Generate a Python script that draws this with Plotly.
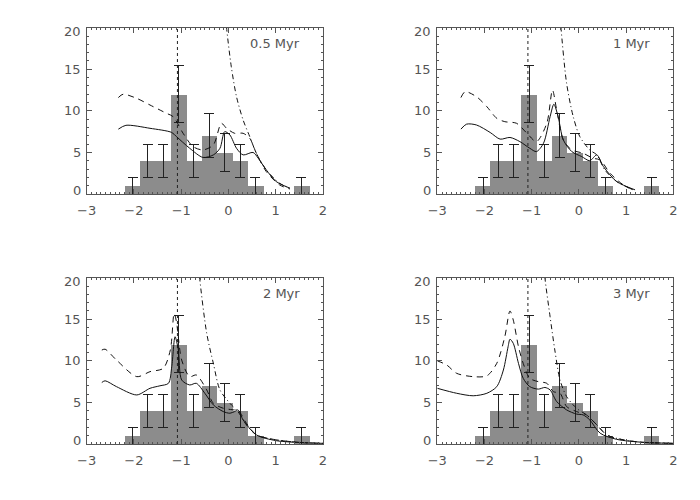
import plotly.graph_objects as go

# histogram (same in every panel)
bin_centers = [-2.03, -1.705, -1.38, -1.055, -0.73, -0.405, -0.08, 0.245, 0.57, 0.895, 1.22, 1.545]
counts = [1, 4, 4, 12, 4, 7, 5, 4, 1, 0, 0, 1]
count_err = [1.0, 2.0, 2.0, 3.46, 2.0, 2.65, 2.24, 2.0, 1.0, 0.0, 0.0, 1.0]
bin_width = 0.33
ref_line_x = -1.08

ages = ["0.5 Myr", "1 Myr", "2 Myr", "3 Myr"]
y_ticks = [0, 5, 10, 15, 20]

# model curves, one set per age
solid_x = [
    [-2.33, -2.17, -1.66, -1.2, -1.1, -0.82, -0.54, -0.32, -0.18, -0.08, 0.03, 0.17, 0.31, 0.52, 0.63, 0.8, 1.01, 1.3],
    [-2.5, -2.38, -2.17, -1.88, -1.67, -1.46, -1.25, -1.04, -0.9, -0.75, -0.61, -0.53, -0.44, -0.33, -0.15, 0.06, 0.23, 0.38, 0.52, 0.8, 1.19],
    [-2.68, -2.61, -2.37, -1.94, -1.66, -1.45, -1.27, -1.2, -1.13, -1.06, -0.99, -0.82, -0.68, -0.5, -0.32, -0.11, 0.03, 0.13, 0.2, 0.31, 0.59, 1.01, 1.58, 2.0],
    [-3.0, -2.59, -2.24, -1.95, -1.74, -1.6, -1.5, -1.46, -1.39, -1.28, -1.18, -1.04, -0.86, -0.72, -0.61, -0.47, -0.26, -0.05, 0.09, 0.23, 0.45, 0.8, 1.36, 2.0],
]
solid_y = [
    [7.8, 8.26, 7.9, 7.4, 6.9, 5.5, 4.4, 4.7, 5.5, 7.5, 7.1, 5.5, 4.7, 5.0, 4.3, 2.9, 1.5, 0.7],
    [7.8, 8.4, 8.3, 7.4, 6.6, 6.8, 6.3, 5.5, 5.1, 6.1, 9.3, 10.8, 9.3, 6.5, 5.1, 4.5, 4.0, 4.7, 3.3, 1.5, 0.5],
    [7.4, 7.6, 6.9, 5.9, 6.7, 7.0, 7.3, 9.3, 12.9, 11.3, 7.7, 7.1, 7.3, 6.1, 4.7, 3.9, 3.7, 3.9, 4.1, 2.9, 1.1, 0.4, 0.16, 0.08],
    [6.7, 6.1, 5.8, 6.1, 6.9, 8.9, 11.7, 12.6, 12.1, 9.7, 7.9, 6.9, 6.6, 6.8, 6.5, 5.1, 4.1, 3.6, 3.5, 2.9, 1.3, 0.56, 0.2, 0.08],
]
dash_x = [
    [-2.33, -2.23, -1.94, -1.66, -1.31, -1.17, -0.96, -0.75, -0.54, -0.32, -0.15, -0.04, 0.13, 0.31, 0.45, 0.59, 0.8, 1.08, 1.3],
    [-2.5, -2.41, -2.17, -1.95, -1.74, -1.57, -1.32, -1.1, -0.9, -0.68, -0.56, -0.47, -0.33, -0.15, 0.09, 0.3, 0.45, 0.66, 0.94, 1.19],
    [-2.68, -2.61, -2.37, -1.94, -1.66, -1.38, -1.23, -1.15, -1.1, -0.99, -0.82, -0.68, -0.46, -0.32, -0.11, 0.13, 0.2, 0.38, 0.59, 1.01, 1.58, 2.0],
    [-3.0, -2.8, -2.59, -2.24, -1.95, -1.74, -1.57, -1.46, -1.39, -1.28, -1.18, -1.04, -0.86, -0.68, -0.54, -0.4, -0.26, -0.05, 0.16, 0.38, 0.59, 0.94, 1.36, 2.0],
]
dash_y = [
    [11.6, 12.0, 11.5, 10.7, 9.7, 9.3, 7.3, 5.7, 5.3, 5.9, 8.5, 7.9, 7.3, 7.3, 6.7, 4.9, 2.7, 1.1, 0.6],
    [11.6, 12.3, 11.7, 10.5, 9.1, 8.7, 8.5, 7.3, 6.3, 8.5, 12.5, 10.1, 6.5, 5.3, 4.9, 4.3, 4.1, 2.5, 1.1, 0.4],
    [11.3, 11.4, 10.1, 8.1, 8.7, 9.1, 11.3, 15.7, 14.7, 10.1, 8.1, 8.3, 6.5, 4.9, 4.3, 4.1, 4.1, 2.5, 1.1, 0.5, 0.16, 0.08],
    [10.0, 9.5, 8.5, 8.1, 8.2, 9.7, 12.9, 16.0, 14.9, 11.7, 9.7, 7.9, 7.5, 7.3, 6.3, 6.1, 4.5, 3.9, 3.5, 2.3, 1.1, 0.5, 0.2, 0.08],
]
dashdot_x = [
    [-0.08, -0.04, 0.06, 0.17, 0.31, 0.45, 0.59, 0.8, 1.08, 1.3],
    [-0.42, -0.38, -0.26, -0.12, 0.02, 0.23, 0.38, 0.55, 0.8, 1.19],
    [-0.65, -0.61, -0.46, -0.32, -0.18, 0.03, 0.2, 0.38, 0.59, 1.01, 1.58, 2.0],
    [-0.76, -0.72, -0.61, -0.51, -0.4, -0.26, -0.05, 0.16, 0.38, 0.59, 0.94, 1.36, 2.0],
]
dashdot_y = [
    [23.0, 20.0, 15.3, 11.7, 8.9, 6.9, 4.9, 2.9, 1.3, 0.7],
    [23.0, 20.0, 13.3, 9.3, 6.9, 5.3, 4.7, 2.9, 1.5, 0.4],
    [23.0, 20.0, 13.3, 9.7, 6.5, 4.9, 3.9, 2.3, 1.1, 0.5, 0.16, 0.08],
    [23.0, 20.0, 15.3, 11.3, 7.7, 5.7, 4.3, 3.5, 2.3, 1.1, 0.5, 0.2, 0.08],
]

# page has an 8px body margin, domains are set so the frames land where the original ones are
x_domains = [[0.1124, 0.45], [0.6133, 0.9504], [0.1124, 0.45], [0.6133, 0.9504]]
y_domains = [[0.628, 0.9606], [0.628, 0.9606], [0.128, 0.4606], [0.128, 0.4606]]

fig = go.Figure()
axis_col = "#555555"
txt_font = dict(family="DejaVu Sans", size=13, color="#555555")
shown = [i for i, c in enumerate(counts) if c > 0]

for k in range(4):
    xa = "x" if k == 0 else "x%d" % (k + 1)
    ya = "y" if k == 0 else "y%d" % (k + 1)
    fig.add_trace(go.Bar(
        x=[bin_centers[i] for i in shown], y=[counts[i] for i in shown], width=bin_width,
        marker=dict(color="#8c8c8c", line=dict(width=0)),
        error_y=dict(type="data", array=[count_err[i] for i in shown], color="#222222",
                     thickness=1, width=5),
        xaxis=xa, yaxis=ya, showlegend=False))
    fig.add_trace(go.Scatter(x=[ref_line_x, ref_line_x], y=[0, 20], mode="lines",
                             line=dict(color="#222222", width=1, dash="dot"),
                             xaxis=xa, yaxis=ya, showlegend=False))
    fig.add_trace(go.Scatter(x=solid_x[k], y=solid_y[k], mode="lines",
                             line=dict(color="#111111", width=1, shape="spline", smoothing=0.8),
                             xaxis=xa, yaxis=ya, showlegend=False))
    fig.add_trace(go.Scatter(x=dash_x[k], y=dash_y[k], mode="lines",
                             line=dict(color="#111111", width=1, dash="6px,5px", shape="spline", smoothing=0.8),
                             xaxis=xa, yaxis=ya, showlegend=False))
    fig.add_trace(go.Scatter(x=dashdot_x[k], y=dashdot_y[k], mode="lines",
                             line=dict(color="#111111", width=1, dash="5px,3px,1px,3px", shape="spline", smoothing=0.8),
                             xaxis=xa, yaxis=ya, showlegend=False))
    fig.add_annotation(text=ages[k], xref=xa + " domain", yref=ya + " domain",
                       x=0.91, y=0.96, xanchor="right", yanchor="top", showarrow=False,
                       font=txt_font)
    # y tick labels: IDL nudges the end labels inward
    for v in y_ticks:
        shift = 4 if v == y_ticks[0] else (-4 if v == y_ticks[-1] else 0)
        fig.add_annotation(text=str(v), xref=xa + " domain", yref=ya, x=0, y=v,
                           xanchor="right", yanchor="middle", xshift=-4, yshift=shift,
                           showarrow=False, font=txt_font)

    common = dict(showline=True, linecolor=axis_col, linewidth=1, mirror="ticks",
                  ticks="inside", ticklen=5, tickcolor=axis_col, showgrid=False,
                  zeroline=False, automargin=False, tickfont=txt_font)
    fig.layout[xa.replace("x", "xaxis")] = dict(
        domain=x_domains[k], range=[-3, 2], dtick=1, anchor=ya, ticklabelstandoff=4,
        minor=dict(ticks="inside", dtick=0.1, ticklen=2, tickcolor=axis_col), **common)
    fig.layout[ya.replace("y", "yaxis")] = dict(
        domain=y_domains[k], range=[0, 20], dtick=5, anchor=xa, showticklabels=False,
        minor=dict(ticks="inside", dtick=1, ticklen=2, tickcolor=axis_col), **common)

fig.update_layout(width=700, height=500, margin=dict(l=0, r=0, t=0, b=0, autoexpand=False),
                  template="none", plot_bgcolor="white", paper_bgcolor="white", bargap=0,
                  font=dict(family="DejaVu Sans, sans-serif"))

fig.write_html("out.html")
